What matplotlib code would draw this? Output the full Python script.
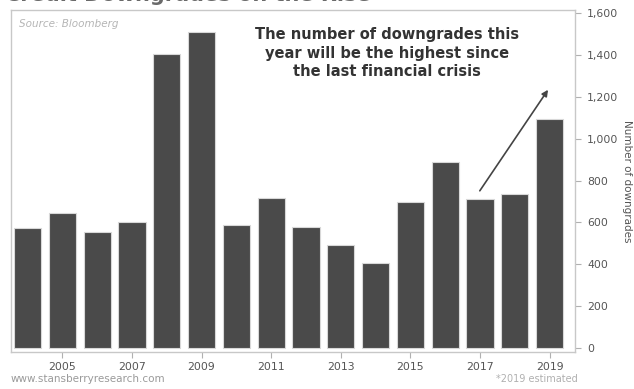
import matplotlib.pyplot as plt
from matplotlib.ticker import FuncFormatter

years = list(range(2004, 2020))
downgrades = [573, 645, 554, 602, 1404, 1509, 587, 716, 578, 492, 406, 697, 888, 712, 735, 1094]
tick_years = [2005, 2007, 2009, 2011, 2013, 2015, 2017, 2019]
y_ticks = [0, 200, 400, 600, 800, 1000, 1200, 1400, 1600]

fig = plt.figure(figsize=(6.34, 3.89), dpi=100)
fig.patch.set_facecolor("white")
ax = fig.add_axes([0.0174, 0.095, 0.889, 0.879])

ax.bar(years, downgrades, width=0.78, color="#4a4a4a", edgecolor="#d8d8d8", linewidth=0.8)

ax.set_xlim(2004 - 0.474, 2019 + 0.72)
ax.set_ylim(-20, 1615)

for side in ["left", "top", "right", "bottom"]:
    ax.spines[side].set_color("#c8c8c8")
    ax.spines[side].set_linewidth(1.0)

ax.yaxis.tick_right()
ax.yaxis.set_label_position("right")
ax.set_yticks(y_ticks)
ax.yaxis.set_major_formatter(FuncFormatter(lambda v, p: f"{int(v):,}"))
ax.set_xticks(tick_years)
ax.tick_params(axis="both", colors="#b0b0b0", labelcolor="#555555", labelsize=7.8, length=4, width=0.8)
ax.tick_params(axis="y", pad=5)
ax.tick_params(axis="x", pad=3)

ax.set_ylabel("Number of downgrades", rotation=-90, labelpad=10, fontsize=7.5, color="#555555")

ax.text(0.015, 0.975, "Source: Bloomberg", transform=ax.transAxes, fontsize=7.5,
        style="italic", color="#b5b5b5", ha="left", va="top")

ax.text(0.667, 0.95, "The number of downgrades this\nyear will be the highest since\nthe last financial crisis",
        transform=ax.transAxes, ha="center", va="top", fontsize=10.5, fontweight="bold",
        color="#333333", linespacing=1.3)

ax.annotate("", xy=(2019.0, 1245), xytext=(2016.95, 740),
            arrowprops=dict(arrowstyle="-|>", color="#444444", linewidth=1.2, mutation_scale=9))

fig.text(0.008, 1.012, "Credit Downgrades on the Rise", fontsize=15, fontweight="bold",
         color="#6a6a6a", ha="left", va="center")
fig.text(0.016, 0.012, "www.stansberryresearch.com", fontsize=7.5, color="#9a9a9a", ha="left", va="bottom")
fig.text(0.912, 0.012, "*2019 estimated", fontsize=7, color="#b0b0b0", ha="right", va="bottom")

fig.savefig("out.png", dpi=100, facecolor="white")
